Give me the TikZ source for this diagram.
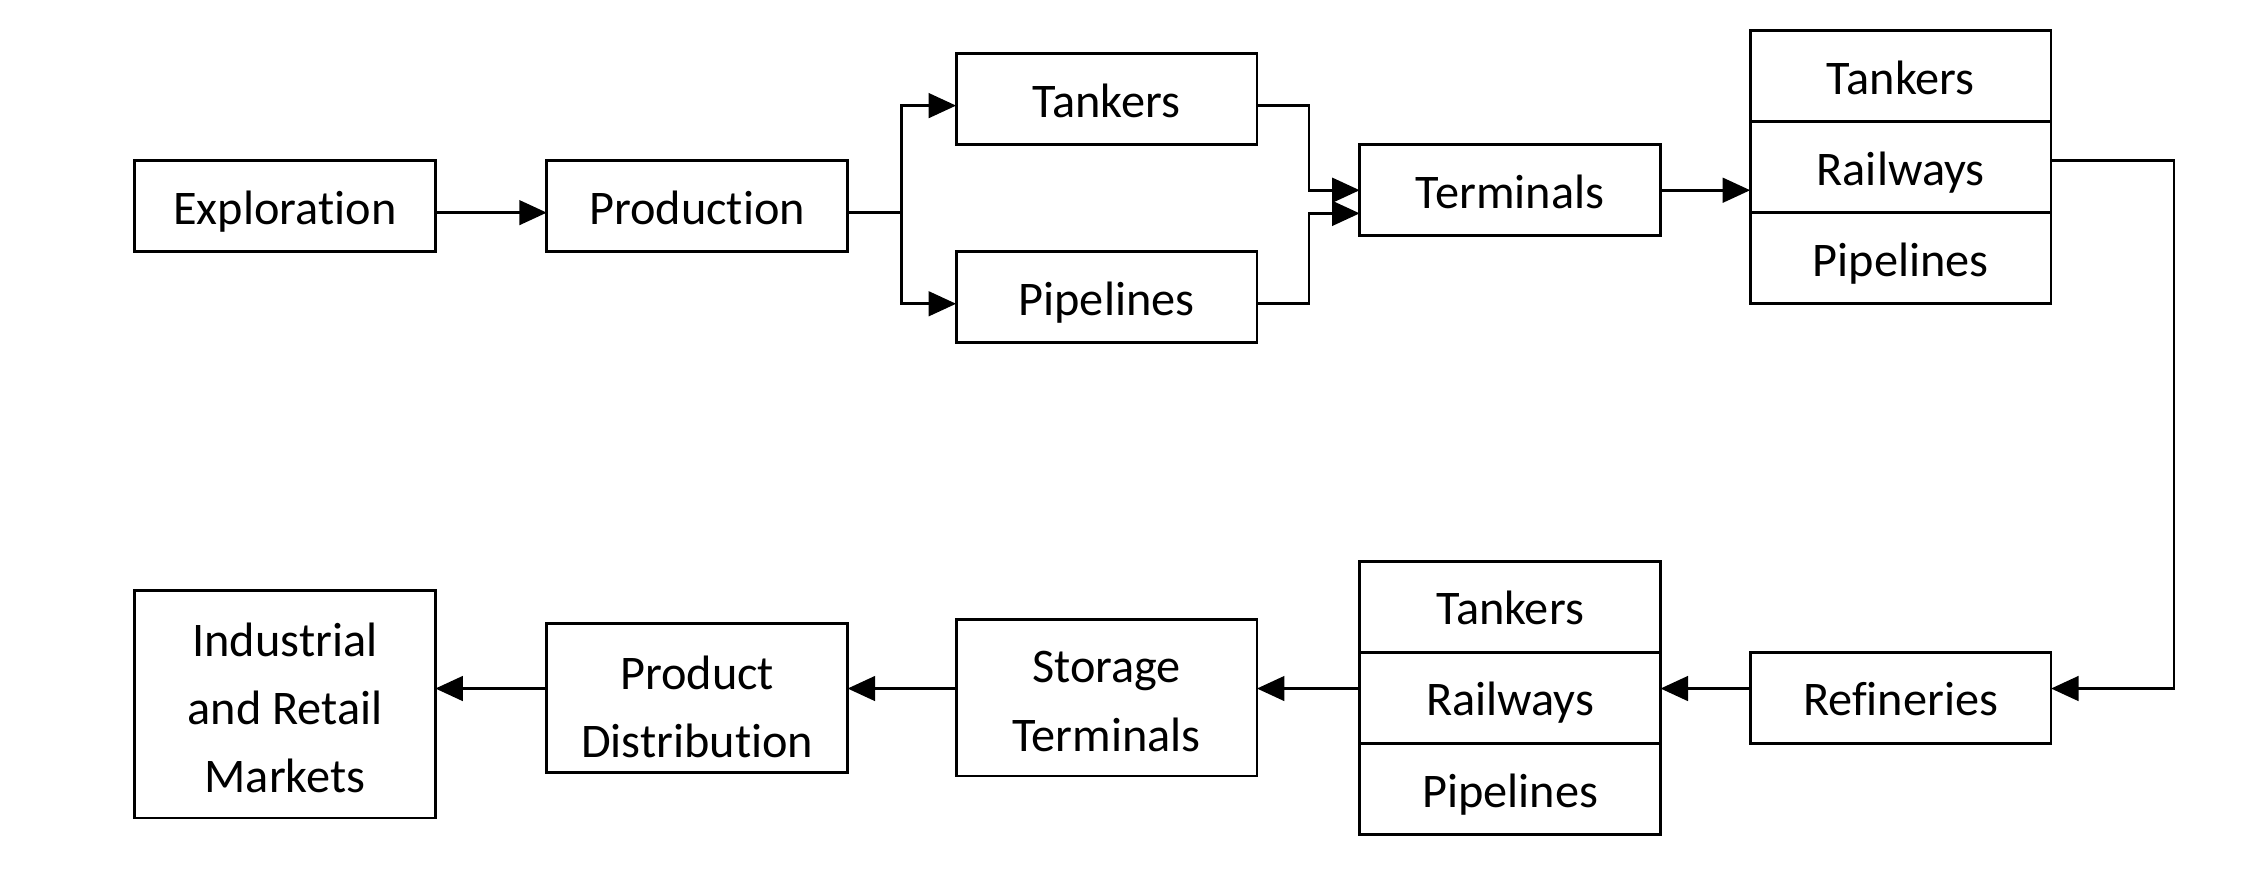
\documentclass[tikz,border=0pt]{standalone}
\usepackage{fontspec}
\usepackage{tikz}
\usetikzlibrary{positioning}
\usetikzlibrary{arrows.meta}
\newfontfamily\boxfont[Ligatures = NoCommon]{Carlito}

\begin{document}
\begin{tikzpicture}
[
box-a/.style={rectangle, draw, line width = 0.55pt, outer sep = 0pt, minimum width = 20.8mm, minimum height = 6.3mm, inner sep = 0pt, text height = 9pt, text depth = 1.9pt, font = \boxfont\fontsize{9.5}{13.4}\selectfont},
box-b/.style={box-a, align = center, text depth = 0pt},
line-a/.style={line width = 0.55pt},
arrow-a/.style={line-a, -{Triangle[length = 1.9mm, width = 1.7mm]}}
]
\useasboundingbox (0,0) rectangle (15.68,-6.11);
% upper row
\node (expl)    [box-a] at (1.97,-1.425)                         {Exploration};
\node (prod)    [box-a, right       = 07.70mm of expl          ] {Production};
\node (tank-1)  [box-a, above right = 01.10mm and 07.50mm of prod] {Tankers};
\node (pipe-1)  [box-a, below right = 00.00mm and 07.50mm of prod] {Pipelines};
\node (term)    [box-a, below right = 00.00mm and 07.10mm of tank-1] {Terminals};
\node (rail-2)  [box-a, right       = 06.20mm of term, yshift = 01.60mm] {Railways};
\node (tank-2)  [box-a, above       = 00.00mm of rail-2        ] {Tankers};
\node (pipe-2)  [box-a, below       = 00.00mm of rail-2        ] {Pipelines};
% lower row
\node (refi)    [box-a, below       = 24.10mm of pipe-2        ] {Refineries};
\node (rail-3)  [box-a, left        = 06.20mm of refi          ] {Railways};
\node (tank-3)  [box-a, above       = 00.00mm of rail-3        ] {Tankers};
\node (pipe-3)  [box-a, below       = 00.00mm of rail-3        ] {Pipelines};
\node (stor)    [box-b, minimum height = 10.8mm, text height = 20.9pt, left = 07.10mm of rail-3] {Storage\\Terminals};
\node (dist)    [box-b, minimum height = 10.3mm, text height = 23.4pt, left = 07.50mm of stor] {Product\\Distribution};
\node (mark)    [box-b, minimum height = 15.7mm, text height = 34.8pt, left = 07.70mm of dist, yshift = -0.45mm] {Industrial\\and Retail\\Markets};
% connectors
\coordinate (fork-1) at ([xshift = 3.70mm, yshift = -0.45mm]prod.east);
\coordinate (lane)   at ([yshift = 0.65mm]refi.east);
\draw [arrow-a] ([yshift = -0.45mm]expl.east) -- ([yshift = -0.45mm]prod.west);
\draw [line-a]  ([yshift = -0.45mm]prod.east) -- (fork-1);
\draw [arrow-a] (fork-1) |- ([yshift = -0.45mm]tank-1.west);
\draw [arrow-a] (fork-1) |- ([yshift = -0.45mm]pipe-1.west);
\draw [arrow-a] ([yshift = -0.45mm]tank-1.east) -- ++(3.6mm,0) |- (term.west);
\draw [arrow-a] ([yshift = -0.45mm]pipe-1.east) -- ++(3.6mm,0) |- ([yshift = -1.6mm]term.west);
\draw [arrow-a] (term.east) -- (term.east -| rail-2.west);
\draw [arrow-a] ([yshift = 0.45mm]rail-2.east) -- ++(8.5mm,0) |- (lane);
\draw [arrow-a] (refi.west |- lane) -- (rail-3.east |- lane);
\draw [arrow-a] (rail-3.west |- lane) -- (stor.east |- lane);
\draw [arrow-a] (stor.west |- lane) -- (dist.east |- lane);
\draw [arrow-a] (dist.west |- lane) -- (mark.east |- lane);
\end{tikzpicture}
\end{document}
